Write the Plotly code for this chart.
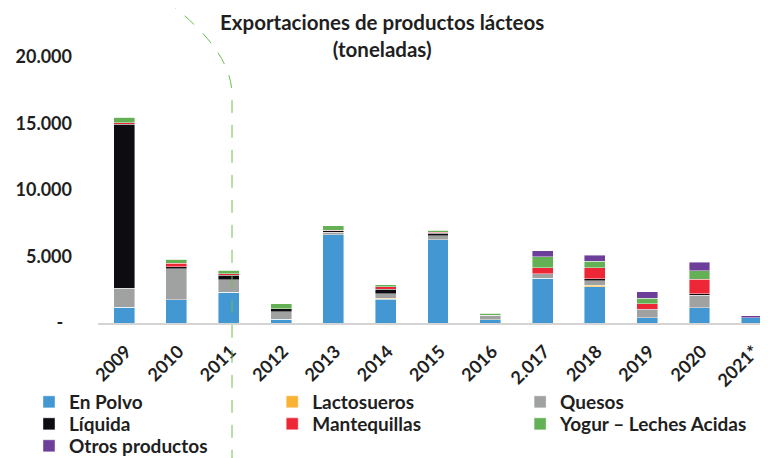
import plotly.graph_objects as go

years = ['2009', '2010', '2011', '2012', '2013', '2014', '2015', '2016',
         '2.017', '2018', '2019', '2020', '2021*']

en_polvo = [1200, 1760, 2330, 280, 6650, 1800, 6240, 230, 3360, 2730, 400, 1150, 400]
lactosueros = [0, 0, 0, 0, 0, 50, 0, 0, 0, 100, 0, 0, 0]
quesos = [1430, 2300, 930, 550, 190, 360, 330, 300, 330, 350, 580, 950, 0]
liquida = [12330, 170, 330, 250, 80, 320, 170, 70, 0, 130, 70, 100, 0]
mantequillas = [100, 260, 100, 0, 60, 180, 100, 0, 470, 850, 380, 1080, 0]
yogur = [400, 300, 270, 380, 320, 150, 150, 130, 830, 500, 430, 630, 0]
otros = [0, 0, 0, 0, 0, 0, 0, 0, 430, 450, 490, 650, 150]

series = [
    ('En Polvo', en_polvo, '#4398d4'),
    ('Lactosueros', lactosueros, '#f9b233'),
    ('Quesos', quesos, '#a0a2a2'),
    ('Líquida', liquida, '#0d0c10'),
    ('Mantequillas', mantequillas, '#ee2737'),
    ('Yogur – Leches Acidas', yogur, '#63b154'),
    ('Otros productos', otros, '#6d3f9a'),
]

ytick_vals = [0, 5000, 10000, 15000, 20000]
ytick_text = ['-  ', '5.000', '10.000', '15.000', '20.000']

FONT = 'Lato'
INK = '#1f1f1f'

# legend grid: 3 columns, filled row by row (one small legend per entry)
leg_cols = [-0.103, 0.260, 0.630]
leg_rows = [-0.1905, -0.2603, -0.330]

fig = go.Figure()
legends = {}
for i, (name, vals, color) in enumerate(series):
    key = 'legend' if i == 0 else 'legend%d' % (i + 1)
    fig.add_trace(go.Bar(
        x=years, y=vals, name=name, legend=key,
        marker=dict(color=color, line=dict(color='rgba(255,255,255,0.7)', width=0.6)),
    ))
    legends[key] = dict(
        x=leg_cols[i % 3], y=leg_rows[i // 3],
        xanchor='left', yanchor='top', orientation='v',
        font=dict(size=19, family=FONT, color=INK, weight='bold'),
        bgcolor='rgba(0,0,0,0)',
    )

# page adds an 8px body margin, so the figure is shifted by 8px
fig.update_layout(
    barmode='stack',
    bargap=0.6,
    width=760, height=462,
    margin=dict(l=90, r=0, t=0, b=147, autoexpand=False),
    paper_bgcolor='white',
    plot_bgcolor='white',
    font=dict(family=FONT, color=INK),
    showlegend=True,
    **legends,
)

fig.add_annotation(
    text='<b>Exportaciones de productos lácteos<br>(toneladas)</b>',
    xref='paper', yref='paper', x=0.424, y=1.0,
    xanchor='center', yanchor='top', showarrow=False,
    font=dict(size=20.5, family=FONT, color=INK),
)

fig.update_xaxes(
    range=[-0.5, 12.31],
    tickangle=-45, automargin=False,
    tickfont=dict(size=18, family=FONT, color=INK, weight='bold'),
    ticklabelstandoff=9, ticklabelshift=2,
    showline=True, linecolor='#d4d4d4', linewidth=2,
    showgrid=False, ticks='',
)

fig.update_yaxes(
    range=[0, 23680], automargin=False,
    tickvals=ytick_vals, ticktext=ytick_text,
    tickfont=dict(size=18, family=FONT, color=INK, weight='bold'),
    ticklabelstandoff=25,
    showgrid=False, zeroline=False, showline=False, ticks='',
)

# green dashed divider drawn over the chart
fig.add_shape(
    type='path', xref='paper', yref='paper', layer='above',
    path='M 0.1,1.025 Q 0.2,0.867 0.2,0.724 L 0.2,-0.45',
    line=dict(color='#6cc04a', width=1, dash='13px,12px'),
)

fig.write_html('out.html')
